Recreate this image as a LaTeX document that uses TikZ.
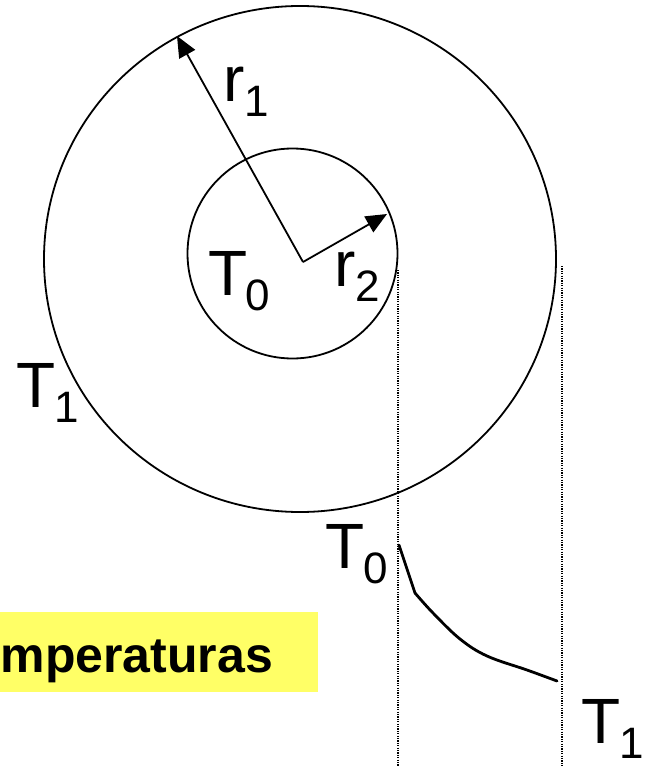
\documentclass[tikz,border=0pt]{standalone}
\usepackage{fontspec}
\setmainfont{Liberation Sans}
\usetikzlibrary{arrows.meta}
\definecolor{boxyellow}{RGB}{255,255,102}
\newcommand\lbl[2]{#1\raisebox{-15pt}{\fontsize{44}{44}\selectfont #2}}
\tikzset{
  ring/.style={line width=1.8pt},
  radius arrow/.style={line width=1.8pt,-{Triangle[length=21pt,width=18pt]}},
  guide/.style={line width=1.1pt,dash pattern=on 1.2pt off 1.2pt},
  profile/.style={line width=2.8pt,line join=round,line cap=round},
  lab/.style={anchor=base west,inner sep=0pt,font=\fontsize{64}{64}\selectfont},
  banner/.style={fill=boxyellow,draw=none}
}
\begin{document}
\begin{tikzpicture}[x=1pt,y=-1pt]
\useasboundingbox (0,0) rectangle (645,767);
\clip (0,0) rectangle (645,767);
% geometry
\coordinate (oc) at (300,259);
\coordinate (ic) at (292.5,253.5);
\coordinate (o) at (303,262);
\coordinate (p1) at (177,36);
\coordinate (p2) at (387,214);
\draw[ring] (oc) ellipse [x radius=256, y radius=253];
\draw[ring] (ic) circle [radius=105];
\draw[radius arrow] (o) -- (p1);
\draw[radius arrow] (o) -- (p2);
% guide lines
\coordinate (g1a) at (398,270);
\coordinate (g1b) at (398,767);
\coordinate (g2a) at (562,266);
\coordinate (g2b) at (562,767);
\draw[guide] (g1a) -- (g1b);
\draw[guide] (g2a) -- (g2b);
% temperature profile
\coordinate (t0) at (399,545);
\coordinate (k) at (415,593);
\draw[profile] (t0) -- (k);
\draw[profile] plot[smooth,tension=0.6] coordinates {(415,593) (433,613) (460,639) (487,656) (527,670) (557,681)};
% banner
\fill[banner] (0,612) rectangle (318,692);
\node[anchor=base west,inner sep=0pt,font=\fontsize{50}{50}\selectfont\bfseries] (ban) at (0.5,672) {mperaturas};
% labels
\node[lab] (r1) at (223,102) {\lbl{r}{1}};
\node[lab] (T0a) at (208,295) {\lbl{T\kern-2pt}{0}};
\node[lab] (r2) at (334,286) {\lbl{r}{2}};
\node[lab] (T1a) at (16,407) {\lbl{T\kern-1pt}{1}};
\node[lab] (T0b) at (325,568) {\lbl{T\kern-1pt}{0}};
\node[lab] (T1b) at (581,743) {\lbl{T\kern-1pt}{1}};
\end{tikzpicture}
\end{document}
